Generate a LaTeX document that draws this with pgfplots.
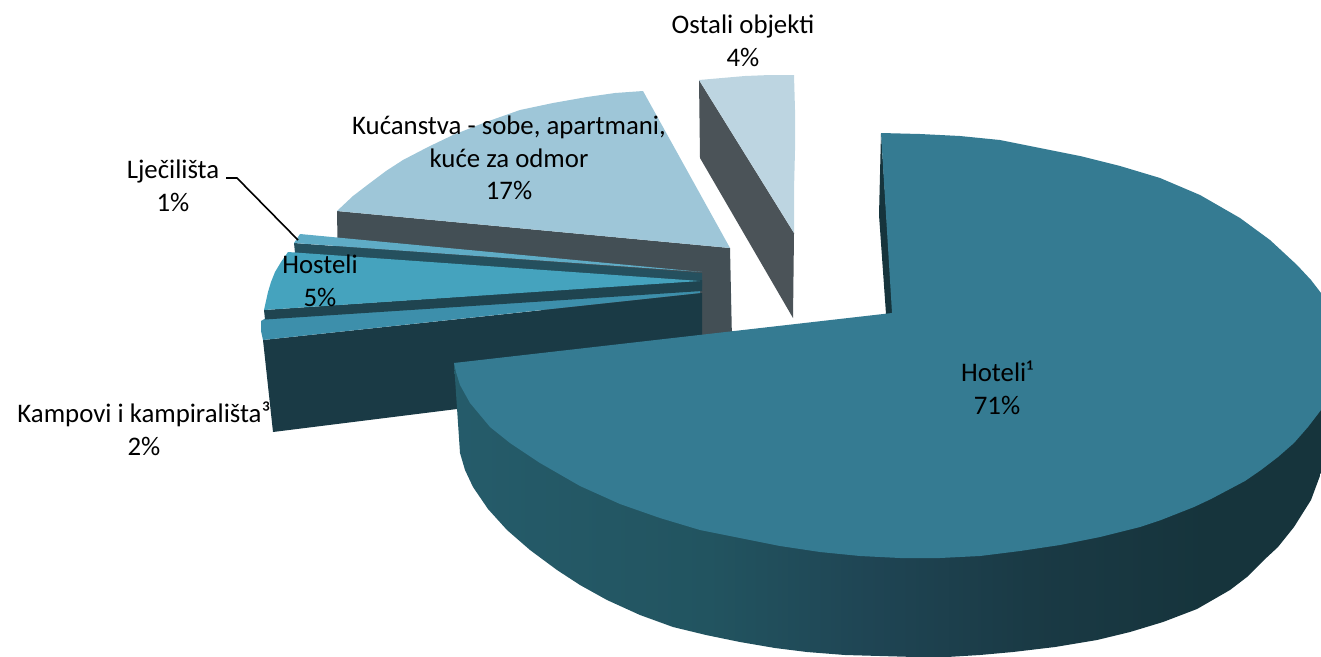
\documentclass[border=0pt]{standalone}
\usepackage{pgfplots}
\pgfplotsset{compat=1.18}
\usepackage{fontspec}
\setmainfont{Carlito}
\definecolor{hot}{HTML}{357B92}
\definecolor{hotside}{HTML}{16343C}
\definecolor{kucT}{HTML}{9EC6D8}
\definecolor{kucS}{HTML}{434F55}
\definecolor{ostT}{HTML}{BDD5E1}
\definecolor{ostS}{HTML}{4B5358}
\definecolor{ljeT}{HTML}{5FACC6}
\definecolor{ljeS}{HTML}{25505E}
\definecolor{hosT}{HTML}{45A3BE}
\definecolor{hosS}{HTML}{1F4450}
\definecolor{kamT}{HTML}{3D8FAB}
\definecolor{kamS}{HTML}{1A3A45}
\definecolor{g1}{HTML}{2F7082}
\definecolor{g2}{HTML}{276070}
\definecolor{g3}{HTML}{225460}
\definecolor{g4}{HTML}{1F4554}
\definecolor{g5}{HTML}{1A3A45}
\pgfdeclarehorizontalshading{hotelside}{100bp}{
  color(0bp)=(g1);
  color(16.7bp)=(g2);
  color(39.5bp)=(g3);
  color(48.6bp)=(g4);
  color(57.8bp)=(g5);
  color(68bp)=(hotside);
  color(100bp)=(hotside)}
\begin{document}
\begin{tikzpicture}
\path[use as bounding box] (0,0) rectangle (1321pt,656pt);
\begin{axis}[
  at={(0,0)}, anchor=south west,
  scale only axis, width=1321pt, height=656pt,
  xmin=0, xmax=1321, ymin=0, ymax=656, y dir=reverse,
  hide axis, clip=true]
% Ostali objekti
\addplot[draw=none, fill=ostS, forget plot] coordinates {(699,80) (794,233) (793,318) (700,158)} --cycle;
\addplot[draw=none, fill=ostT, forget plot] coordinates {(699,80) (722,78) (745,76) (770,75) (794,75) (795,110) (795,150) (794,190) (794,233)} --cycle;
% Kucanstva
\addplot[draw=none, fill=kucS, forget plot] coordinates {(337,211) (730,248) (732,340) (700,340) (338,270)} --cycle;
\addplot[draw=none, fill=kucT, forget plot] coordinates {(337,211) (353,196) (370,183) (386,171) (403,160) (428,147) (453,135) (486,122) (520,110) (553,103) (587,97) (615,93) (643,91) (730,248)} --cycle;
% Ljecilista
\addplot[draw=none, fill=ljeS, forget plot] coordinates {(294,243) (702,273) (702,286) (295,253)} --cycle;
\addplot[draw=none, fill=ljeT, forget plot] coordinates {(294,243) (300,234) (702,272)} --cycle;
% Kampovi
\addplot[draw=none, fill=kamS, forget plot] coordinates {(263,340) (702,293) (702,345) (457,409) (273,432)} --cycle;
\addplot[draw=none, fill=kamT, forget plot] coordinates {(261,321) (266,318) (700,289) (700,293) (263,340) (261,331)} --cycle;
% Hosteli
\addplot[draw=none, fill=hosS, forget plot] coordinates {(264,310) (265,319.5) (702,291) (702,280)} --cycle;
\addplot[draw=none, fill=hosT, forget plot] coordinates {(288,252) (281,262) (275,272) (271,282) (268,292) (266,301) (264,310) (700,281)} --cycle;
% Hoteli side
\addplot[draw=none, shading=hotelside, shading angle=0, forget plot] coordinates {(454,363) (460,453) (465,470) (473,487) (488,509) (507,530) (530,550) (557,570) (580,585) (607,600) (640,615) (673,627) (706,635) (740,642) (775,648) (807,652) (845,655) (880,656) (915,657) (947,657) (980,655) (1013,652) (1055,647) (1097,640) (1130,632) (1163,622) (1197,609) (1230,590) (1247,577) (1264,560) (1278,547) (1294,527) (1311,500) (1321,473) (1330,440) (1330,350)} --cycle;
\addplot[draw=none, fill=hotside, forget plot] coordinates {(881,133) (879,215) (886,314) (893,314)} --cycle;
% Hoteli top
\addplot[draw=none, fill=hot, forget plot] coordinates {(881,133) (920,134) (960,136) (1000,140) (1040,148) (1080,156) (1120,166) (1160,178) (1200,195) (1240,218) (1270,240) (1297,265) (1311,280) (1321,293) (1330,345) (1327,380) (1321,410) (1308,427) (1294,443) (1278,457) (1261,470) (1245,481) (1228,490) (1211,499) (1194,507) (1161,520) (1140,527) (1100,537) (1060,545) (1020,551) (980,556) (940,558) (900,558) (860,556) (820,552) (780,546) (740,538) (700,530) (660,518) (620,504) (580,486) (540,463) (510,443) (490,427) (470,403) (460,385) (456,372) (454,363) (892,313)} --cycle;
% leader line
\addplot[black, line width=1.6pt, forget plot] coordinates {(226,178) (237,178) (298,240)};
\tikzset{lab/.style={align=center, font=\fontsize{26.8}{32.5}\selectfont, text=black, inner sep=0pt}}
\node[lab] at (axis cs:743,41) {Ostali objekti\\4\%};
\node[lab] at (axis cs:509,158) {Kućanstva - sobe, apartmani,\\kuće za odmor\\17\%};
\node[lab] at (axis cs:173,186) {Lječilišta\\1\%};
\node[lab] at (axis cs:320,281) {Hosteli\\5\%};
\node[lab] at (axis cs:144,429) {Kampovi i kampirališta³\\2\%};
\node[lab] at (axis cs:997,388) {Hoteli¹\\71\%};
\end{axis}
\end{tikzpicture}
\end{document}
